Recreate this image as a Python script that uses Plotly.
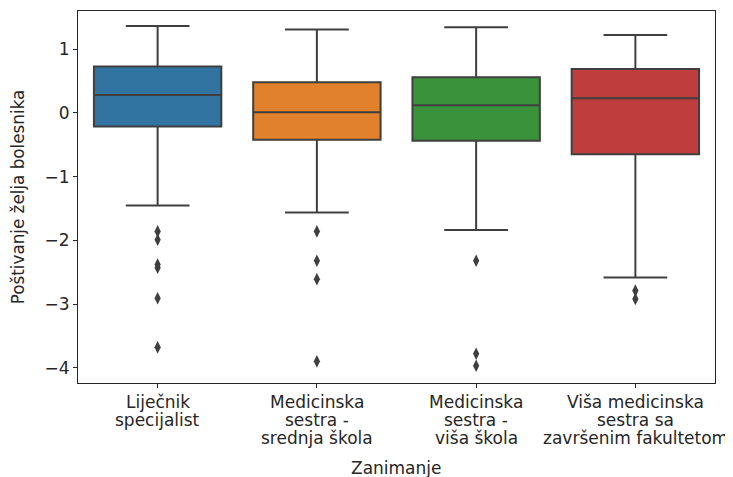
"""Box plot: Poštivanje želja bolesnika po zanimanju."""

import plotly.graph_objects as go

# categories (one label line per list item)
categories = ["Liječnik specijalist", "MS srednja", "MS viša", "VMS fakultet"]
category_labels = [
    ["Liječnik", "specijalist"],
    ["Medicinska", "sestra -", "srednja škola"],
    ["Medicinska", "sestra -", "viša škola"],
    ["Viša medicinska", "sestra sa", "završenim fakultetom"],
]
colors = ["#3274a1", "#e1812c", "#3a923a", "#c03d3e"]

# box statistics
q1 = [-0.215, -0.42, -0.435, -0.65]
median = [0.283, 0.01, 0.12, 0.23]
q3 = [0.727, 0.48, 0.56, 0.69]
lower_whisker = [-1.455, -1.565, -1.837, -2.585]
upper_whisker = [1.366, 1.31, 1.345, 1.224]

# outliers per category
outliers = [
    [-1.86, -1.99, -2.38, -2.43, -2.91, -3.68],
    [-1.86, -2.32, -2.61, -3.90],
    [-2.32, -3.78, -3.97],
    [-2.79, -2.92],
]

LINE = "#3f3f3f"
TEXT = "#262626"
FONT = "DejaVu Sans, sans-serif"

fig = go.Figure()
for i, cat in enumerate(categories):
    fig.add_trace(
        go.Box(
            x=[cat],
            q1=[q1[i]],
            median=[median[i]],
            q3=[q3[i]],
            lowerfence=[lower_whisker[i]],
            upperfence=[upper_whisker[i]],
            fillcolor=colors[i],
            line=dict(color=LINE, width=2),
            width=0.8,
            whiskerwidth=0.5,
            boxpoints=False,
            showlegend=False,
            hoverinfo="skip",
        )
    )
    fig.add_trace(
        go.Scatter(
            x=[cat] * len(outliers[i]),
            y=outliers[i],
            mode="markers",
            marker=dict(symbol="diamond-tall", size=9, color=LINE),
            showlegend=False,
            hoverinfo="skip",
        )
    )

# multi-line tick labels with matplotlib-like line spacing
for cat, lines in zip(categories, category_labels):
    for j, line in enumerate(lines):
        fig.add_annotation(
            x=cat, xref="x", y=0, yref="paper",
            text=line, showarrow=False,
            xanchor="center", yanchor="middle",
            yshift=-18.7 - 18.3 * j,
            font=dict(family=FONT, size=17, color=TEXT),
        )
fig.add_annotation(
    x=0.5, xref="paper", y=0, yref="paper",
    text="Zanimanje", showarrow=False,
    xanchor="center", yanchor="middle", yshift=-85,
    font=dict(family=FONT, size=17, color=TEXT),
)

# the page body has an 8px margin, so the figure is sized to fit the window
fig.update_layout(
    width=725,
    height=469,
    paper_bgcolor="white",
    plot_bgcolor="white",
    font=dict(family=FONT, size=17, color=TEXT),
    margin=dict(l=70, r=18, t=3, b=94),
)
fig.update_xaxes(
    type="category",
    categoryorder="array",
    categoryarray=categories,
    range=[-0.5, 3.5],
    showticklabels=False,
    automargin=False,
    showline=True,
    mirror=True,
    linecolor=TEXT,
    linewidth=1,
    ticks="outside",
    ticklen=4,
    tickcolor=TEXT,
    showgrid=False,
    zeroline=False,
)
fig.update_yaxes(
    range=[-4.24, 1.60],
    tickvals=[-4, -3, -2, -1, 0, 1],
    automargin=False,
    showline=True,
    mirror=True,
    linecolor=TEXT,
    linewidth=1,
    ticks="outside",
    ticklen=4,
    tickcolor=TEXT,
    tickfont=dict(size=17),
    showgrid=False,
    zeroline=False,
    title=dict(text="Poštivanje želja bolesnika", standoff=16, font=dict(size=16.8)),
)

fig.write_html("out.html")
